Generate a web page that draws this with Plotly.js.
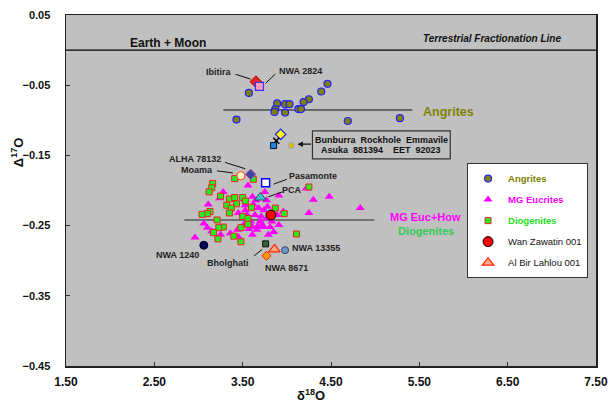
<!DOCTYPE html>
<html><head><meta charset="utf-8">
<script src="https://cdn.plot.ly/plotly-3.0.1.min.js"></script>
<style>html,body{margin:0;padding:0;background:#fff}#chart{width:608px;height:404px}</style>
</head><body><div id="chart"></div>
<script>
// ---- data ----
const angriteD18O = [3.57,4.46,4.39,4.25,4.19,3.89,3.98,4.03,3.87,3.86,3.98,4.13,4.16,3.43,4.69,5.28];
const angriteD17O = [-0.061,-0.048,-0.059,-0.070,-0.074,-0.076,-0.077,-0.077,-0.084,-0.088,-0.089,-0.084,-0.084,-0.099,-0.101,-0.097];

const eucriteD18O = [3.56,3.28,3.24,3.11,3.06,2.96,3.91,4.30,4.48,4.83,4.25,4.22,3.75,3.61,3.65,3.77,3.62,3.68,3.74,3.78,3.53,3.45,3.55,3.64,3.71,3.78,3.83,3.89,3.91,3.81,3.74,3.67,3.61,3.57,3.66,3.72,3.51,3.44,3.36,3.45,3.61,3.79,3.25,3.15,3.10,3.53,3.59,3.70,3.85,3.96];
const eucriteD17O = [-0.193,-0.202,-0.211,-0.220,-0.247,-0.267,-0.207,-0.213,-0.209,-0.225,-0.232,-0.197,-0.202,-0.209,-0.214,-0.214,-0.220,-0.225,-0.228,-0.223,-0.228,-0.232,-0.235,-0.235,-0.237,-0.240,-0.244,-0.235,-0.249,-0.252,-0.252,-0.251,-0.252,-0.255,-0.256,-0.249,-0.249,-0.256,-0.261,-0.266,-0.263,-0.263,-0.263,-0.258,-0.253,-0.221,-0.244,-0.244,-0.259,-0.230];

const diogeniteD18O = [3.16,3.15,3.12,3.25,3.35,3.41,3.50,3.53,3.43,3.32,3.37,3.13,3.10,3.04,3.35,3.50,3.56,3.60,3.87,3.97,3.21,3.56,3.28,3.23,3.48,3.17,3.40,3.22,3.48,4.11,4.25,3.62,3.41];
const diogeniteD17O = [-0.190,-0.196,-0.202,-0.208,-0.212,-0.210,-0.210,-0.215,-0.219,-0.221,-0.225,-0.230,-0.233,-0.234,-0.232,-0.237,-0.240,-0.224,-0.225,-0.233,-0.242,-0.248,-0.252,-0.253,-0.253,-0.260,-0.265,-0.269,-0.273,-0.262,-0.195,-0.184,-0.183];

const wanZawatinD18O = [3.82], wanZawatinD17O = [-0.235];
const alBirLahlouD18O = [3.86], alBirLahlouD17O = [-0.284];

const namedMeteorites = ['Ibitira','NWA 2824','Bunburra Rockhole','Emmaville','Asuka 881394','EET 92023','ALHA 78132','Moama','Pasamonte','PCA','NWA 1240','Bholghati','NWA 8671','NWA 13355'];
const namedD18O = [3.65,3.69,3.93,3.88,3.85,4.05,3.59,3.48,3.76,3.70,3.06,3.76,3.77,3.98];
const namedD17O = [-0.045,-0.0516,-0.120,-0.129,-0.136,-0.136,-0.177,-0.179,-0.189,-0.210,-0.278,-0.276,-0.293,-0.285];

// fractionation lines
const tflD18O = [1.5, 7.5], tflD17O = [0, 0];
const angriteLineD18O = [3.28, 5.42], angriteLineD17O = [-0.0853, -0.0853];
const hedLineD18O = [2.84, 4.99], hedLineD17O = [-0.242, -0.242];

const xTicks = [1.5,2.5,3.5,4.5,5.5,6.5,7.5];
const yTicks = [0.05,-0.05,-0.15,-0.25,-0.35,-0.45];

// ---- styling ----
const FONT = 'Liberation Sans, Arial, sans-serif';
const styles = {
  'Ibitira': {symbol:'diamond', size:9, color:'#ee2222', line:{color:'#aa0000', width:1}},
  'NWA 2824': {symbol:'square', size:8, color:'#ff99bb', line:{color:'#3333ff', width:1.2}},
  'Bunburra Rockhole': {symbol:'diamond', size:8, color:'#ffff00', line:{color:'#2222ee', width:1.2}},
  'Emmaville': {symbol:'x-thin', size:6, color:'#000', line:{color:'#000', width:1.5}},
  'Asuka 881394': {symbol:'square', size:6, color:'#2288dd', line:{color:'#001133', width:1}},
  'EET 92023': {symbol:'circle', size:6, color:'#e8b000', line:{color:'#88aadd', width:1}},
  'ALHA 78132': {symbol:'diamond', size:8, color:'#4444aa', line:{color:'#aa44aa', width:1}},
  'Moama': {symbol:'circle', size:8, color:'#ffffcc', line:{color:'#ff5522', width:1.2}},
  'Pasamonte': {symbol:'square', size:8, color:'#ffffff', line:{color:'#0000ff', width:1.4}},
  'PCA': {symbol:'triangle-up', size:10, color:'#33cccc', line:{color:'#334455', width:1}},
  'NWA 1240': {symbol:'circle', size:8, color:'#000055', line:{color:'#000022', width:1}},
  'Bholghati': {symbol:'square', size:6, color:'#336633', line:{color:'#111', width:1}},
  'NWA 8671': {symbol:'diamond', size:7, color:'#ff9900', line:{color:'#ee2200', width:1}},
  'NWA 13355': {symbol:'circle', size:7, color:'#6699cc', line:{color:'#334466', width:1}}
};

const traces = [];
traces.push({x:tflD18O, y:tflD17O, mode:'lines', line:{color:'#000', width:1.4}, showlegend:false, hoverinfo:'skip'});
traces.push({x:angriteLineD18O, y:angriteLineD17O, mode:'lines', line:{color:'#111', width:1.2}, showlegend:false, hoverinfo:'skip'});
traces.push({x:hedLineD18O, y:hedLineD17O, mode:'lines', line:{color:'#222', width:1.2}, showlegend:false, hoverinfo:'skip'});

traces.push({x:eucriteD18O, y:eucriteD17O, mode:'markers', type:'scatter', name:'<span style="color:#ff00ff"><b>MG Eucrites</b></span>',
  legendrank:2, legendgroup:'b', marker:{symbol:'triangle-up', size:8, color:'#ff00ff', line:{width:0}}});
traces.push({x:diogeniteD18O, y:diogeniteD17O, mode:'markers', type:'scatter', name:'<span style="color:#22dd22"><b>Diogenites</b></span>',
  legendrank:3, legendgroup:'c', marker:{symbol:'square', size:6, color:'#22ee22', line:{color:'#ee2222', width:1}}});
traces.push({x:angriteD18O, y:angriteD17O, mode:'markers', type:'scatter', name:'<span style="color:#808000"><b>Angrites</b></span>',
  legendrank:1, legendgroup:'a', marker:{symbol:'circle', size:7, color:'#808000', line:{color:'#2222ff', width:1.2}}});

namedMeteorites.forEach((n,i)=>{
  const s = styles[n];
  traces.push({x:[namedD18O[i]], y:[namedD17O[i]], mode:'markers', type:'scatter', name:n, showlegend:false,
    marker:{symbol:s.symbol, size:s.size, color:s.color, line:s.line}});
});

traces.push({x:wanZawatinD18O, y:wanZawatinD17O, mode:'markers', type:'scatter', name:'Wan Zawatin 001',
  legendrank:4, legendgroup:'d', marker:{symbol:'circle', size:10, color:'#ff0000', line:{color:'#000', width:1}}});
traces.push({x:alBirLahlouD18O, y:alBirLahlouD17O, mode:'markers', type:'scatter', name:'Al Bir Lahlou 001',
  legendrank:5, legendgroup:'e', marker:{symbol:'triangle-up', size:10, color:'#ffaa88', line:{color:'#ff2200', width:1.2}}});

// ---- labels ----
const labels = [
  {t:'Ibitira', x:3.23, y:-0.0316, l:[3.42,-0.0345,3.59,-0.0413]},
  {t:'NWA 2824', x:4.15, y:-0.0298, l:[3.87,-0.034,3.76,-0.0473]},
  {t:'ALHA 78132', x:2.96, y:-0.155, l:[3.30,-0.160,3.53,-0.169]},
  {t:'Moama', x:2.98, y:-0.171, l:[3.21,-0.172,3.39,-0.175]},
  {t:'Pasamonte', x:4.30, y:-0.180, l:[3.85,-0.191,4.00,-0.184]},
  {t:'PCA', x:4.06, y:-0.199, l:[3.79,-0.209,3.95,-0.202]},
  {t:'NWA 1240', x:2.76, y:-0.292},
  {t:'Bholghati', x:3.33, y:-0.303, l:[3.63,-0.293,3.72,-0.284]},
  {t:'NWA 8671', x:4.00, y:-0.311},
  {t:'NWA 13355', x:4.33, y:-0.282}
];
const annotations = labels.map(o=>({x:o.x, y:o.y, text:'<b>'+o.t+'</b>', showarrow:false, xanchor:'center', yanchor:'middle',
  font:{family:FONT, size:9, color:'#222'}}));
const shapes = labels.filter(o=>o.l).map(o=>({type:'line', x0:o.l[0], y0:o.l[1], x1:o.l[2], y1:o.l[3], line:{color:'#111', width:1}}));

// box
shapes.push({type:'rect', x0:4.29, x1:5.85, y0:-0.115, y1:-0.155, fillcolor:'#c0c0c0', line:{color:'#333', width:1.2}});
annotations.push({x:5.07, y:-0.128, text:'<b>Bunburra  Rockhole  Emmavile</b>', showarrow:false, font:{family:FONT, size:9, color:'#111'}});
annotations.push({x:5.07, y:-0.1425, text:'<b>Asuka  881394    EET  92023</b>', showarrow:false, font:{family:FONT, size:9, color:'#111'}});
annotations.push({x:4.12, y:-0.134, ax:4.29, ay:-0.134, axref:'x', ayref:'y', text:'', showarrow:true, arrowhead:2, arrowsize:1, arrowwidth:1.1, arrowcolor:'#111'});

annotations.push({x:5.83, y:-0.088, text:'<b>Angrites</b>', showarrow:false, font:{family:FONT, size:12.5, color:'#808000'}});
annotations.push({x:5.57, y:-0.238, text:'<b>MG Euc+How</b>', showarrow:false, font:{family:FONT, size:11, color:'#ff00ff'}});
annotations.push({x:5.57, y:-0.258, text:'<b>Diogenites</b>', showarrow:false, font:{family:FONT, size:11, color:'#33cc55'}});
annotations.push({x:2.66, y:0.010, text:'<b>Earth + Moon</b>', showarrow:false, font:{family:FONT, size:12, color:'#111'}});
annotations.push({x:7.13, y:0.0172, xanchor:'right', text:'<b><i>Terrestrial Fractionation Line</i></b>', showarrow:false, font:{family:FONT, size:10, color:'#111'}});

// axis titles
annotations.push({xref:'paper', yref:'paper', x:-0.092, xanchor:'center', y:0.61, yanchor:'middle', text:'<b>Δ<sup>17</sup>O</b>', textangle:-90, showarrow:false, font:{family:FONT, size:13, color:'#111'}});
annotations.push({xref:'paper', yref:'paper', x:0.462, xanchor:'center', y:-0.083, yanchor:'middle', text:'<b>δ<sup>18</sup>O</b>', showarrow:false, font:{family:FONT, size:13, color:'#111'}});

const layout = {
  width:608, height:404,
  margin:{l:66, r:12, t:15, b:38},
  paper_bgcolor:'#ffffff', plot_bgcolor:'#c0c0c0',
  showlegend:true,
  legend:{x:0.985, xanchor:'right', y:0.578, yanchor:'top', bgcolor:'#ffffff', bordercolor:'#333', borderwidth:1,
    font:{family:FONT, size:9.5, color:'#111'}, traceorder:'grouped', tracegroupgap:2, itemwidth:30},
  xaxis:{range:[1.4999,7.5001], tickvals:xTicks, tickformat:'.2f', ticks:'inside', ticklen:4, tickcolor:'#333',
    showgrid:false, zeroline:false, showline:true, linecolor:'#222', linewidth:1.5, mirror:true,
    tickfont:{family:FONT, size:12, color:'#111', weight:'bold'}, ticklabelstandoff:4, ticklabeloverflow:'allow'},
  yaxis:{range:[-0.45,0.05], tickvals:yTicks, tickformat:'.2f', ticks:'inside', ticklen:4, tickcolor:'#333',
    showgrid:false, zeroline:false, showline:true, linecolor:'#222', linewidth:1.5, mirror:true,
    tickfont:{family:FONT, size:11, color:'#111', weight:'bold'}, ticklabelstandoff:12},
  annotations:annotations, shapes:shapes
};
Plotly.newPlot('chart', traces, layout, {displayModeBar:false, staticPlot:true});
</script></body></html>
